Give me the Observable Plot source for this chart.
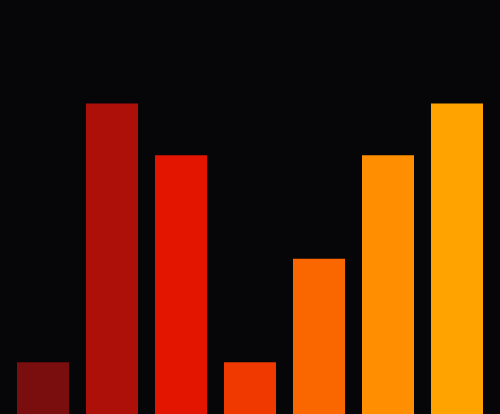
<!DOCTYPE html>
<html>
<head>
<meta charset="utf-8">
<script src="https://cdn.jsdelivr.net/npm/d3@7"></script>
<script src="https://cdn.jsdelivr.net/npm/@observablehq/plot@0.6"></script>
<style>
  html, body { margin: 0; padding: 0; background: #060508; }
  #chart svg { display: block; }
</style>
</head>
<body>
<div id="chart"></div>
<script>
const categories = ["A", "B", "C", "D", "E", "F", "G"];
const values = [1, 6, 5, 1, 3, 5, 6];
const colors = ["#7a0e0e", "#ad1008", "#e31400", "#f03900", "#fa6600", "#ff8f00", "#ffa300"];

const data = categories.map((c, i) => ({ category: c, value: values[i] }));

const chart = Plot.plot({
  width: 500,
  height: 414,
  margin: 0,
  style: { background: "#060508" },
  x: { domain: categories, padding: 17 / 69, round: false, axis: null },
  y: { domain: [0, 8], axis: null },
  color: { domain: categories, range: colors },
  marks: [
    Plot.barY(data, { x: "category", y: "value", fill: "category" })
  ]
});
document.getElementById("chart").appendChild(chart);
</script>
</body>
</html>
